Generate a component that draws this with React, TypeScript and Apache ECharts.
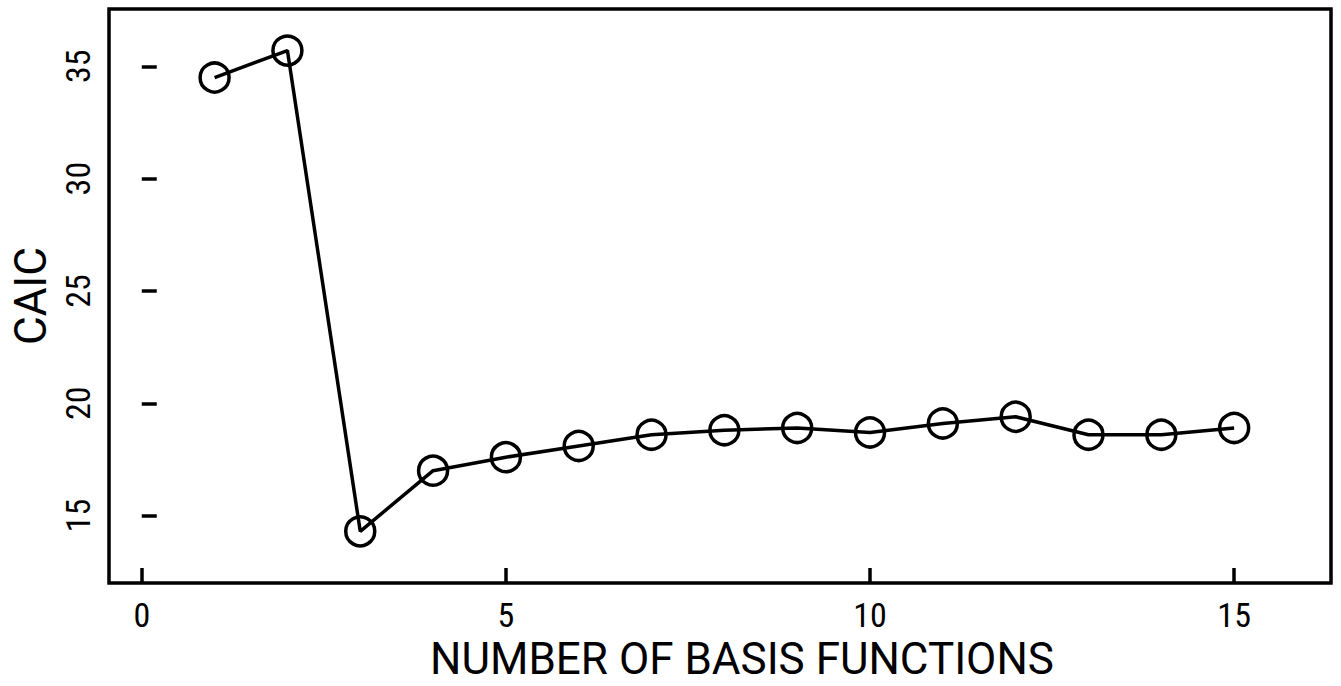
import React, { useEffect, useRef } from "react";
import * as echarts from "echarts";

const basisCounts = [1, 2, 3, 4, 5, 6, 7, 8, 9, 10, 11, 12, 13, 14, 15];
const caicValues = [34.5, 35.7, 14.3, 17.0, 17.6, 18.1, 18.6, 18.8, 18.9, 18.7, 19.1, 19.4, 18.6, 18.6, 18.9];
const xTicks = [0, 5, 10, 15];
const yTicks = [15, 20, 25, 30, 35];
const xTitle = "NUMBER OF BASIS FUNCTIONS";
const yTitle = "CAIC";

const tickFont = "'Liberation Sans Narrow', 'Roboto Condensed', 'Liberation Sans', sans-serif";
const titleFont = "Roboto, 'Liberation Sans', sans-serif";

export default function App() {
  const ref = useRef<HTMLDivElement>(null);
  useEffect(() => {
    if (!ref.current) return;
    const chart = echarts.init(ref.current, null, { renderer: "svg" });
    chart.setOption({
      animation: false,
      backgroundColor: "#ffffff",
      grid: {
        left: 109,
        right: 10,
        top: 9,
        bottom: 101,
        show: true,
        borderColor: "#000",
        borderWidth: 3.5,
        backgroundColor: "transparent",
      },
      xAxis: {
        type: "value",
        min: -0.45,
        max: 16.33,
        name: xTitle,
        nameLocation: "middle",
        nameGap: 54,
        nameTextStyle: {
          fontFamily: titleFont,
          fontSize: 44,
          color: "#000",
          padding: [0, 0, 0, 44],
        },
        axisLine: { show: false },
        splitLine: { show: false },
        axisTick: {
          show: true,
          inside: true,
          length: 15,
          lineStyle: { color: "#000", width: 3.5 },
          customValues: xTicks,
        },
        axisLabel: {
          show: true,
          margin: 15,
          fontFamily: tickFont,
          fontSize: 34,
          color: "#000",
          customValues: xTicks,
        },
      },
      yAxis: {
        type: "value",
        min: 12.0,
        max: 37.55,
        name: yTitle,
        nameLocation: "middle",
        nameGap: 55,
        nameRotate: 90,
        nameTextStyle: { fontFamily: titleFont, fontSize: 44, color: "#000" },
        axisLine: { show: false },
        splitLine: { show: false },
        axisTick: {
          show: true,
          inside: true,
          length: 15,
          lineStyle: { color: "#000", width: 3.5 },
          customValues: yTicks,
        },
        axisLabel: {
          show: true,
          rotate: 90,
          margin: 14,
          fontFamily: tickFont,
          fontSize: 34,
          color: "#000",
          customValues: yTicks,
        },
      },
      series: [
        {
          type: "line",
          data: basisCounts.map((x, i) => [x, caicValues[i]]),
          symbol: "circle",
          symbolSize: 29,
          showSymbol: true,
          lineStyle: { color: "#000", width: 3.5 },
          itemStyle: { color: "none", borderColor: "#000", borderWidth: 3.5 },
          z: 3,
        },
      ],
    });
    return () => chart.dispose();
  }, []);
  return (
    <div
      ref={ref}
      style={{ position: "fixed", left: 0, top: 0, width: 1341, height: 686, background: "#fff" }}
    />
  );
}
